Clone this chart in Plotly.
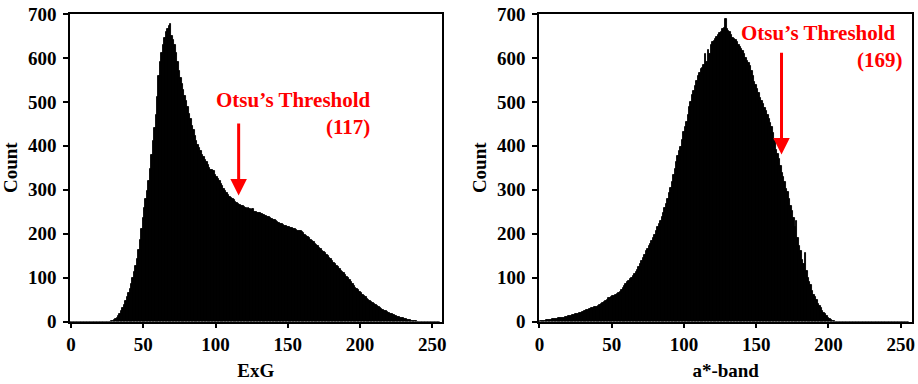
import plotly.graph_objects as go

# ---------------- data ----------------
bins = list(range(256))

exg_counts = (
    [0] * 28 +
    [1, 2, 4, 6, 9, 13, 18, 24, 31, 38, 46, 55, 64, 74, 85, 98, 112, 127, 143, 162,   # 28-47
     185, 210, 236, 258, 280, 298, 320, 348, 380, 410, 440, 470, 510, 560, 590, 612,  # 48-63
     630, 645, 658, 666, 672, 677, 650, 640, 630, 612, 590, 570, 555, 540, 527, 514,  # 64-79
     502, 489, 472, 460, 446, 435, 422, 411, 402, 395, 388, 380, 374, 368, 362, 357,  # 80-95
     350, 344, 345, 343, 334, 330, 324, 320, 314, 308, 302, 298, 293, 287, 284, 281,  # 96-111
     278, 276, 272, 270, 268, 266, 264, 262, 260, 259, 257, 258, 255, 253, 257, 249,  # 112-127
     250, 248, 246, 247, 245, 243, 242, 240, 238, 237, 235, 233, 232, 230, 228, 227,  # 128-143
     225, 223, 222, 220, 218, 217, 215, 214, 213, 212, 211, 210, 209, 207, 206, 205,  # 144-159
     203, 201, 198, 195, 192, 189, 186, 183, 180, 177, 174, 171, 168, 164, 161, 158,  # 160-175
     155, 152, 148, 145, 142, 138, 134, 130, 127, 123, 120, 116, 113, 110, 106, 102,  # 176-191
     98, 94, 89, 85, 81, 77, 74, 71, 68, 64, 61, 58, 55, 52, 49, 47,                  # 192-207
     44, 42, 40, 38, 35, 33, 31, 29, 27, 25, 24, 22, 20, 18, 17, 15,                  # 208-223
     14, 12, 11, 10, 9, 8, 7, 6, 5, 4, 4, 3, 2, 2, 1, 1] +                            # 224-239
    [0] * 16
)

aband_counts = (
    [0, 1, 1, 2, 2, 3, 3, 4, 4, 5, 5, 6, 6, 7, 7, 8,                                   # 0-15
     9, 9, 10, 11, 12, 12, 13, 14, 15, 16, 17, 18, 19, 20, 22, 23,                    # 16-31
     25, 26, 27, 29, 30, 31, 32, 33, 34, 35, 37, 39, 41, 44, 47, 50,                  # 32-47
     53, 54, 56, 57, 58, 60, 62, 65, 68, 72, 76, 80, 85, 89, 92, 96,                  # 48-63
     100, 104, 108, 112, 118, 125, 131, 138, 145, 152, 160, 166, 171, 177, 183, 190,  # 64-79
     197, 205, 214, 222, 228, 238, 248, 258, 267, 279, 292, 304, 318, 333, 348, 363,  # 80-95
     377, 388, 398, 414, 432, 443, 455, 470, 488, 500, 515, 525, 537, 548, 558, 566,  # 96-111
     574, 578, 585, 610, 590, 618, 610, 630, 636, 638, 644, 648, 652, 656, 660, 665,  # 112-127
     668, 688, 665, 662, 658, 652, 646, 643, 640, 636, 630, 625, 620, 616, 608, 600,  # 128-143
     594, 588, 582, 570, 558, 545, 538, 530, 520, 508, 502, 495, 486, 480, 470, 460,  # 144-159
     452, 442, 428, 410, 390, 382, 370, 355, 338, 330, 318, 302, 295, 280, 262, 252,  # 160-175
     235, 215, 228, 190, 172, 160, 140, 130, 156, 115, 98, 90, 84, 70, 60, 55,         # 176-191
     48, 40, 35, 30, 25, 20, 16, 12, 9, 6, 4, 2, 1] +                                 # 192-204
    [0] * 51
)

x_ticks = [0, 50, 100, 150, 200, 250]
y_ticks = [0, 100, 200, 300, 400, 500, 600, 700]

x_titles = ["ExG", "a*-band"]
thresholds = [117, 169]
arrow_x = [116, 167.5]          # where the arrows are drawn
arrow_tail_y = [454, 615]
arrow_tip_y = [287, 380]

# ---------------- figure ----------------
W, H = 918, 384
serif = "Liberation Serif"

fig = go.Figure()
for counts, xa, ya in [(exg_counts, "x", "y"), (aband_counts, "x2", "y2")]:
    fig.add_trace(go.Bar(x=bins, y=counts, width=1.0,
                         marker=dict(color="black", line=dict(color="black", width=0.9)),
                         xaxis=xa, yaxis=ya, showlegend=False))

tickfont = dict(family=serif, size=19, color="black", weight="bold")
titlefont = dict(family=serif, size=19, color="black", weight="bold")

def xax(domain, rng, title, anchor):
    return dict(domain=domain, range=rng, tickmode="array", tickvals=x_ticks,
                anchor=anchor, automargin=False, ticklabeloverflow="allow",
                ticks="outside", ticklen=5, tickwidth=1.5, tickcolor="black",
                showline=True, linecolor="black", linewidth=1.5, mirror=True,
                showgrid=False, zeroline=False, tickfont=tickfont,
                title=dict(text=title, font=titlefont, standoff=10))

def yax(domain, anchor, title):
    return dict(domain=domain, range=[0, 700], tickmode="array", tickvals=y_ticks,
                anchor=anchor, automargin=False, ticklabeloverflow="allow",
                ticks="outside", ticklen=5, tickwidth=1.5, tickcolor="black",
                showline=True, linecolor="black", linewidth=1.5, mirror=True,
                showgrid=False, zeroline=False, tickfont=tickfont,
                ticklabelstandoff=3,
                title=dict(text=title, font=titlefont, standoff=5))

def px_x(p):
    return p / W

def px_y(p):
    return 1 - p / H

ydom = [px_y(321.5), px_y(14)]
fig.update_layout(
    width=W, height=H,
    margin=dict(l=0, r=0, t=0, b=0, autoexpand=False),
    paper_bgcolor="white", plot_bgcolor="white",
    bargap=0,
    xaxis=xax([px_x(70), px_x(441.7)], [-0.7, 256.5], x_titles[0], "y"),
    yaxis=yax(ydom, "x", "Count"),
    xaxis2=xax([px_x(539), px_x(912.3)], [-0.3, 258], x_titles[1], "y2"),
    yaxis2=yax(ydom, "x2", "Count"),
)

red = "#FF0000"
afont = dict(family=serif, size=21, color=red, weight="bold")

# left panel text
fig.add_annotation(x=209, y=474, xref="x", yref="y",
                   text="Otsu’s Threshold<br>(%d)" % thresholds[0],
                   showarrow=False, xanchor="right", yanchor="middle",
                   align="right", font=afont)
# right panel text (two lines)
fig.add_annotation(x=248.2, y=656, xref="x2", yref="y2",
                   text="Otsu’s Threshold", showarrow=False,
                   xanchor="right", yanchor="middle", font=afont)
fig.add_annotation(x=253, y=595, xref="x2", yref="y2",
                   text="(%d)" % thresholds[1], showarrow=False,
                   xanchor="right", yanchor="middle", font=afont)

# arrows
for i, (xr, yr) in enumerate([("x", "y"), ("x2", "y2")]):
    fig.add_annotation(x=arrow_x[i], y=arrow_tip_y[i], ax=arrow_x[i], ay=arrow_tail_y[i],
                       xref=xr, yref=yr, axref=xr, ayref=yr, text="",
                       showarrow=True, arrowhead=2, arrowsize=1.1, arrowwidth=3,
                       arrowcolor=red, standoff=0, startstandoff=0)

# remove the default page margin so the figure fills the window exactly
fig.write_html("out.html",
               config={"displayModeBar": False},
               post_script="document.body.style.margin='0';"
                           "document.body.style.overflow='hidden';")
